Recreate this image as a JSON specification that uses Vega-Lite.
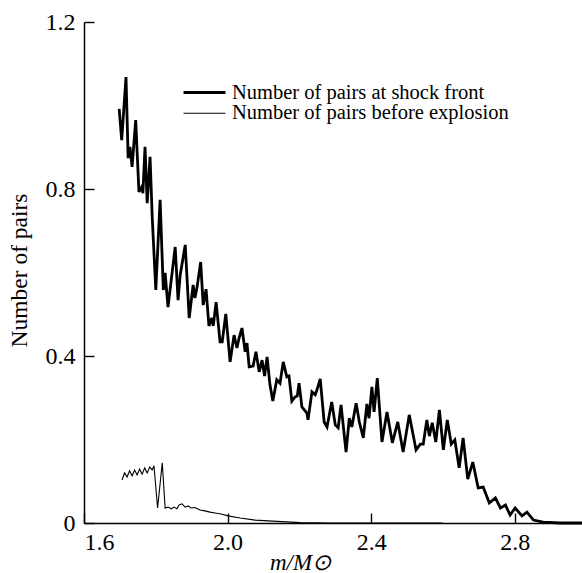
{
  "$schema": "https://vega.github.io/schema/vega-lite/v6.json",
  "width": 499,
  "height": 501,
  "autosize": "none",
  "padding": {"left": 84, "top": 22, "right": 0, "bottom": 50},
  "background": "white",
  "config": {
    "view": {"stroke": null},
    "font": "Liberation Serif",
    "axis": {"grid": false, "domainColor": "black", "domainWidth": 1.5, "tickColor": "black", "tickWidth": 1.4, "tickSize": -10, "labelColor": "black", "labelFont": "Liberation Serif", "labelFontSize": 24, "titleFont": "Liberation Serif", "titleColor": "black", "titleFontWeight": "normal"}
  },
  "data": {"values": [
    {"s":"Number of pairs at shock front","x":1.698,"y":0.992},
    {"s":"Number of pairs at shock front","x":1.705,"y":0.917},
    {"s":"Number of pairs at shock front","x":1.717,"y":1.068},
    {"s":"Number of pairs at shock front","x":1.723,"y":0.874},
    {"s":"Number of pairs at shock front","x":1.728,"y":0.901},
    {"s":"Number of pairs at shock front","x":1.734,"y":0.853},
    {"s":"Number of pairs at shock front","x":1.744,"y":0.965},
    {"s":"Number of pairs at shock front","x":1.753,"y":0.793},
    {"s":"Number of pairs at shock front","x":1.761,"y":0.805},
    {"s":"Number of pairs at shock front","x":1.764,"y":0.790},
    {"s":"Number of pairs at shock front","x":1.770,"y":0.901},
    {"s":"Number of pairs at shock front","x":1.776,"y":0.766},
    {"s":"Number of pairs at shock front","x":1.784,"y":0.877},
    {"s":"Number of pairs at shock front","x":1.790,"y":0.733},
    {"s":"Number of pairs at shock front","x":1.800,"y":0.558},
    {"s":"Number of pairs at shock front","x":1.812,"y":0.774},
    {"s":"Number of pairs at shock front","x":1.821,"y":0.558},
    {"s":"Number of pairs at shock front","x":1.826,"y":0.599},
    {"s":"Number of pairs at shock front","x":1.834,"y":0.517},
    {"s":"Number of pairs at shock front","x":1.854,"y":0.661},
    {"s":"Number of pairs at shock front","x":1.862,"y":0.534},
    {"s":"Number of pairs at shock front","x":1.868,"y":0.594},
    {"s":"Number of pairs at shock front","x":1.882,"y":0.666},
    {"s":"Number of pairs at shock front","x":1.893,"y":0.491},
    {"s":"Number of pairs at shock front","x":1.904,"y":0.570},
    {"s":"Number of pairs at shock front","x":1.909,"y":0.539},
    {"s":"Number of pairs at shock front","x":1.915,"y":0.565},
    {"s":"Number of pairs at shock front","x":1.925,"y":0.625},
    {"s":"Number of pairs at shock front","x":1.932,"y":0.522},
    {"s":"Number of pairs at shock front","x":1.940,"y":0.560},
    {"s":"Number of pairs at shock front","x":1.948,"y":0.472},
    {"s":"Number of pairs at shock front","x":1.956,"y":0.491},
    {"s":"Number of pairs at shock front","x":1.960,"y":0.472},
    {"s":"Number of pairs at shock front","x":1.968,"y":0.529},
    {"s":"Number of pairs at shock front","x":1.979,"y":0.434},
    {"s":"Number of pairs at shock front","x":1.985,"y":0.434},
    {"s":"Number of pairs at shock front","x":1.995,"y":0.501},
    {"s":"Number of pairs at shock front","x":2.007,"y":0.386},
    {"s":"Number of pairs at shock front","x":2.018,"y":0.450},
    {"s":"Number of pairs at shock front","x":2.026,"y":0.419},
    {"s":"Number of pairs at shock front","x":2.032,"y":0.443},
    {"s":"Number of pairs at shock front","x":2.040,"y":0.467},
    {"s":"Number of pairs at shock front","x":2.049,"y":0.410},
    {"s":"Number of pairs at shock front","x":2.054,"y":0.431},
    {"s":"Number of pairs at shock front","x":2.060,"y":0.374},
    {"s":"Number of pairs at shock front","x":2.071,"y":0.376},
    {"s":"Number of pairs at shock front","x":2.079,"y":0.410},
    {"s":"Number of pairs at shock front","x":2.088,"y":0.362},
    {"s":"Number of pairs at shock front","x":2.096,"y":0.390},
    {"s":"Number of pairs at shock front","x":2.103,"y":0.352},
    {"s":"Number of pairs at shock front","x":2.110,"y":0.398},
    {"s":"Number of pairs at shock front","x":2.118,"y":0.331},
    {"s":"Number of pairs at shock front","x":2.126,"y":0.292},
    {"s":"Number of pairs at shock front","x":2.137,"y":0.343},
    {"s":"Number of pairs at shock front","x":2.146,"y":0.335},
    {"s":"Number of pairs at shock front","x":2.155,"y":0.386},
    {"s":"Number of pairs at shock front","x":2.165,"y":0.350},
    {"s":"Number of pairs at shock front","x":2.171,"y":0.352},
    {"s":"Number of pairs at shock front","x":2.179,"y":0.292},
    {"s":"Number of pairs at shock front","x":2.188,"y":0.302},
    {"s":"Number of pairs at shock front","x":2.194,"y":0.304},
    {"s":"Number of pairs at shock front","x":2.199,"y":0.335},
    {"s":"Number of pairs at shock front","x":2.207,"y":0.278},
    {"s":"Number of pairs at shock front","x":2.221,"y":0.263},
    {"s":"Number of pairs at shock front","x":2.224,"y":0.247},
    {"s":"Number of pairs at shock front","x":2.235,"y":0.314},
    {"s":"Number of pairs at shock front","x":2.244,"y":0.307},
    {"s":"Number of pairs at shock front","x":2.249,"y":0.319},
    {"s":"Number of pairs at shock front","x":2.258,"y":0.345},
    {"s":"Number of pairs at shock front","x":2.269,"y":0.242},
    {"s":"Number of pairs at shock front","x":2.277,"y":0.230},
    {"s":"Number of pairs at shock front","x":2.290,"y":0.290},
    {"s":"Number of pairs at shock front","x":2.300,"y":0.235},
    {"s":"Number of pairs at shock front","x":2.308,"y":0.228},
    {"s":"Number of pairs at shock front","x":2.316,"y":0.283},
    {"s":"Number of pairs at shock front","x":2.330,"y":0.170},
    {"s":"Number of pairs at shock front","x":2.339,"y":0.251},
    {"s":"Number of pairs at shock front","x":2.346,"y":0.230},
    {"s":"Number of pairs at shock front","x":2.358,"y":0.287},
    {"s":"Number of pairs at shock front","x":2.367,"y":0.242},
    {"s":"Number of pairs at shock front","x":2.378,"y":0.204},
    {"s":"Number of pairs at shock front","x":2.388,"y":0.285},
    {"s":"Number of pairs at shock front","x":2.394,"y":0.251},
    {"s":"Number of pairs at shock front","x":2.402,"y":0.326},
    {"s":"Number of pairs at shock front","x":2.408,"y":0.266},
    {"s":"Number of pairs at shock front","x":2.417,"y":0.347},
    {"s":"Number of pairs at shock front","x":2.430,"y":0.194},
    {"s":"Number of pairs at shock front","x":2.444,"y":0.266},
    {"s":"Number of pairs at shock front","x":2.459,"y":0.192},
    {"s":"Number of pairs at shock front","x":2.474,"y":0.242},
    {"s":"Number of pairs at shock front","x":2.489,"y":0.170},
    {"s":"Number of pairs at shock front","x":2.506,"y":0.259},
    {"s":"Number of pairs at shock front","x":2.525,"y":0.175},
    {"s":"Number of pairs at shock front","x":2.537,"y":0.189},
    {"s":"Number of pairs at shock front","x":2.545,"y":0.189},
    {"s":"Number of pairs at shock front","x":2.555,"y":0.247},
    {"s":"Number of pairs at shock front","x":2.562,"y":0.208},
    {"s":"Number of pairs at shock front","x":2.570,"y":0.240},
    {"s":"Number of pairs at shock front","x":2.580,"y":0.194},
    {"s":"Number of pairs at shock front","x":2.590,"y":0.271},
    {"s":"Number of pairs at shock front","x":2.601,"y":0.175},
    {"s":"Number of pairs at shock front","x":2.612,"y":0.247},
    {"s":"Number of pairs at shock front","x":2.623,"y":0.189},
    {"s":"Number of pairs at shock front","x":2.633,"y":0.199},
    {"s":"Number of pairs at shock front","x":2.645,"y":0.132},
    {"s":"Number of pairs at shock front","x":2.656,"y":0.204},
    {"s":"Number of pairs at shock front","x":2.669,"y":0.105},
    {"s":"Number of pairs at shock front","x":2.683,"y":0.146},
    {"s":"Number of pairs at shock front","x":2.698,"y":0.084},
    {"s":"Number of pairs at shock front","x":2.712,"y":0.086},
    {"s":"Number of pairs at shock front","x":2.729,"y":0.048},
    {"s":"Number of pairs at shock front","x":2.746,"y":0.060},
    {"s":"Number of pairs at shock front","x":2.760,"y":0.036},
    {"s":"Number of pairs at shock front","x":2.774,"y":0.043},
    {"s":"Number of pairs at shock front","x":2.787,"y":0.019},
    {"s":"Number of pairs at shock front","x":2.801,"y":0.036},
    {"s":"Number of pairs at shock front","x":2.820,"y":0.017},
    {"s":"Number of pairs at shock front","x":2.834,"y":0.026},
    {"s":"Number of pairs at shock front","x":2.852,"y":0.007},
    {"s":"Number of pairs at shock front","x":2.879,"y":0.002},
    {"s":"Number of pairs at shock front","x":2.927,"y":0.0},
    {"s":"Number of pairs at shock front","x":2.988,"y":0.0},
    {"s":"Number of pairs before explosion","x":1.706,"y":0.103},
    {"s":"Number of pairs before explosion","x":1.713,"y":0.120},
    {"s":"Number of pairs before explosion","x":1.720,"y":0.110},
    {"s":"Number of pairs before explosion","x":1.727,"y":0.125},
    {"s":"Number of pairs before explosion","x":1.734,"y":0.113},
    {"s":"Number of pairs before explosion","x":1.741,"y":0.127},
    {"s":"Number of pairs before explosion","x":1.748,"y":0.115},
    {"s":"Number of pairs before explosion","x":1.755,"y":0.129},
    {"s":"Number of pairs before explosion","x":1.762,"y":0.117},
    {"s":"Number of pairs before explosion","x":1.769,"y":0.132},
    {"s":"Number of pairs before explosion","x":1.776,"y":0.120},
    {"s":"Number of pairs before explosion","x":1.783,"y":0.134},
    {"s":"Number of pairs before explosion","x":1.790,"y":0.127},
    {"s":"Number of pairs before explosion","x":1.795,"y":0.137},
    {"s":"Number of pairs before explosion","x":1.805,"y":0.036},
    {"s":"Number of pairs before explosion","x":1.818,"y":0.144},
    {"s":"Number of pairs before explosion","x":1.826,"y":0.036},
    {"s":"Number of pairs before explosion","x":1.834,"y":0.038},
    {"s":"Number of pairs before explosion","x":1.843,"y":0.034},
    {"s":"Number of pairs before explosion","x":1.851,"y":0.038},
    {"s":"Number of pairs before explosion","x":1.859,"y":0.034},
    {"s":"Number of pairs before explosion","x":1.865,"y":0.043},
    {"s":"Number of pairs before explosion","x":1.873,"y":0.046},
    {"s":"Number of pairs before explosion","x":1.882,"y":0.038},
    {"s":"Number of pairs before explosion","x":1.890,"y":0.041},
    {"s":"Number of pairs before explosion","x":1.898,"y":0.036},
    {"s":"Number of pairs before explosion","x":1.909,"y":0.037},
    {"s":"Number of pairs before explosion","x":1.923,"y":0.031},
    {"s":"Number of pairs before explosion","x":1.937,"y":0.029},
    {"s":"Number of pairs before explosion","x":1.951,"y":0.026},
    {"s":"Number of pairs before explosion","x":1.965,"y":0.024},
    {"s":"Number of pairs before explosion","x":1.979,"y":0.022},
    {"s":"Number of pairs before explosion","x":2.001,"y":0.017},
    {"s":"Number of pairs before explosion","x":2.035,"y":0.012},
    {"s":"Number of pairs before explosion","x":2.077,"y":0.007},
    {"s":"Number of pairs before explosion","x":2.138,"y":0.004},
    {"s":"Number of pairs before explosion","x":2.202,"y":0.001},
    {"s":"Number of pairs before explosion","x":2.286,"y":0.0},
    {"s":"Number of pairs before explosion","x":2.600,"y":0.0}
  ]},
  "mark": {"type": "line", "strokeJoin": "miter", "strokeMiterLimit": 3},
  "encoding": {
    "x": {"field": "x", "type": "quantitative",
      "scale": {"domain": [1.6, 2.99], "nice": false, "zero": false},
      "axis": {"values": [1.6, 2.0, 2.4, 2.8], "format": ".1f", "labelPadding": 17, "title": "m/M⊙", "titleFontSize": 23, "titleFontStyle": "italic", "titleX": 216, "titleY": 46, "titleBaseline": "alphabetic", "titleAlign": "center"}},
    "y": {"field": "y", "type": "quantitative",
      "scale": {"domain": [0, 1.2], "nice": false},
      "axis": {"values": [0, 0.4, 0.8, 1.2], "labelExpr": "datum.value == 0 ? '0' : format(datum.value, '.1f')", "labelPadding": 19, "title": "Number of pairs", "titleFontSize": 23.5, "titleAngle": 270, "titleAlign": "center", "titleBaseline": "middle", "titleX": -65, "titleY": 248}},
    "color": {"field": "s", "type": "nominal",
      "scale": {"domain": ["Number of pairs at shock front", "Number of pairs before explosion"], "range": ["black", "black"]},
      "legend": {"title": null, "orient": "none", "legendX": 110, "legendY": 60, "symbolType": "M-2.33,0H2.33", "symbolSize": 324, "labelFont": "Liberation Serif", "labelFontSize": 20.5, "labelColor": "black", "labelOffset": 17, "labelLimit": 400, "rowPadding": 0, "padding": 0}},
    "strokeWidth": {"field": "s", "type": "nominal",
      "scale": {"domain": ["Number of pairs at shock front", "Number of pairs before explosion"], "range": [2.8, 1.1]},
      "legend": {"title": null, "orient": "none", "legendX": 110, "legendY": 60, "symbolType": "M-2.33,0H2.33", "symbolSize": 324, "labelFont": "Liberation Serif", "labelFontSize": 20.5, "labelColor": "black", "labelOffset": 17, "labelLimit": 400, "rowPadding": 0, "padding": 0}}
  }
}
